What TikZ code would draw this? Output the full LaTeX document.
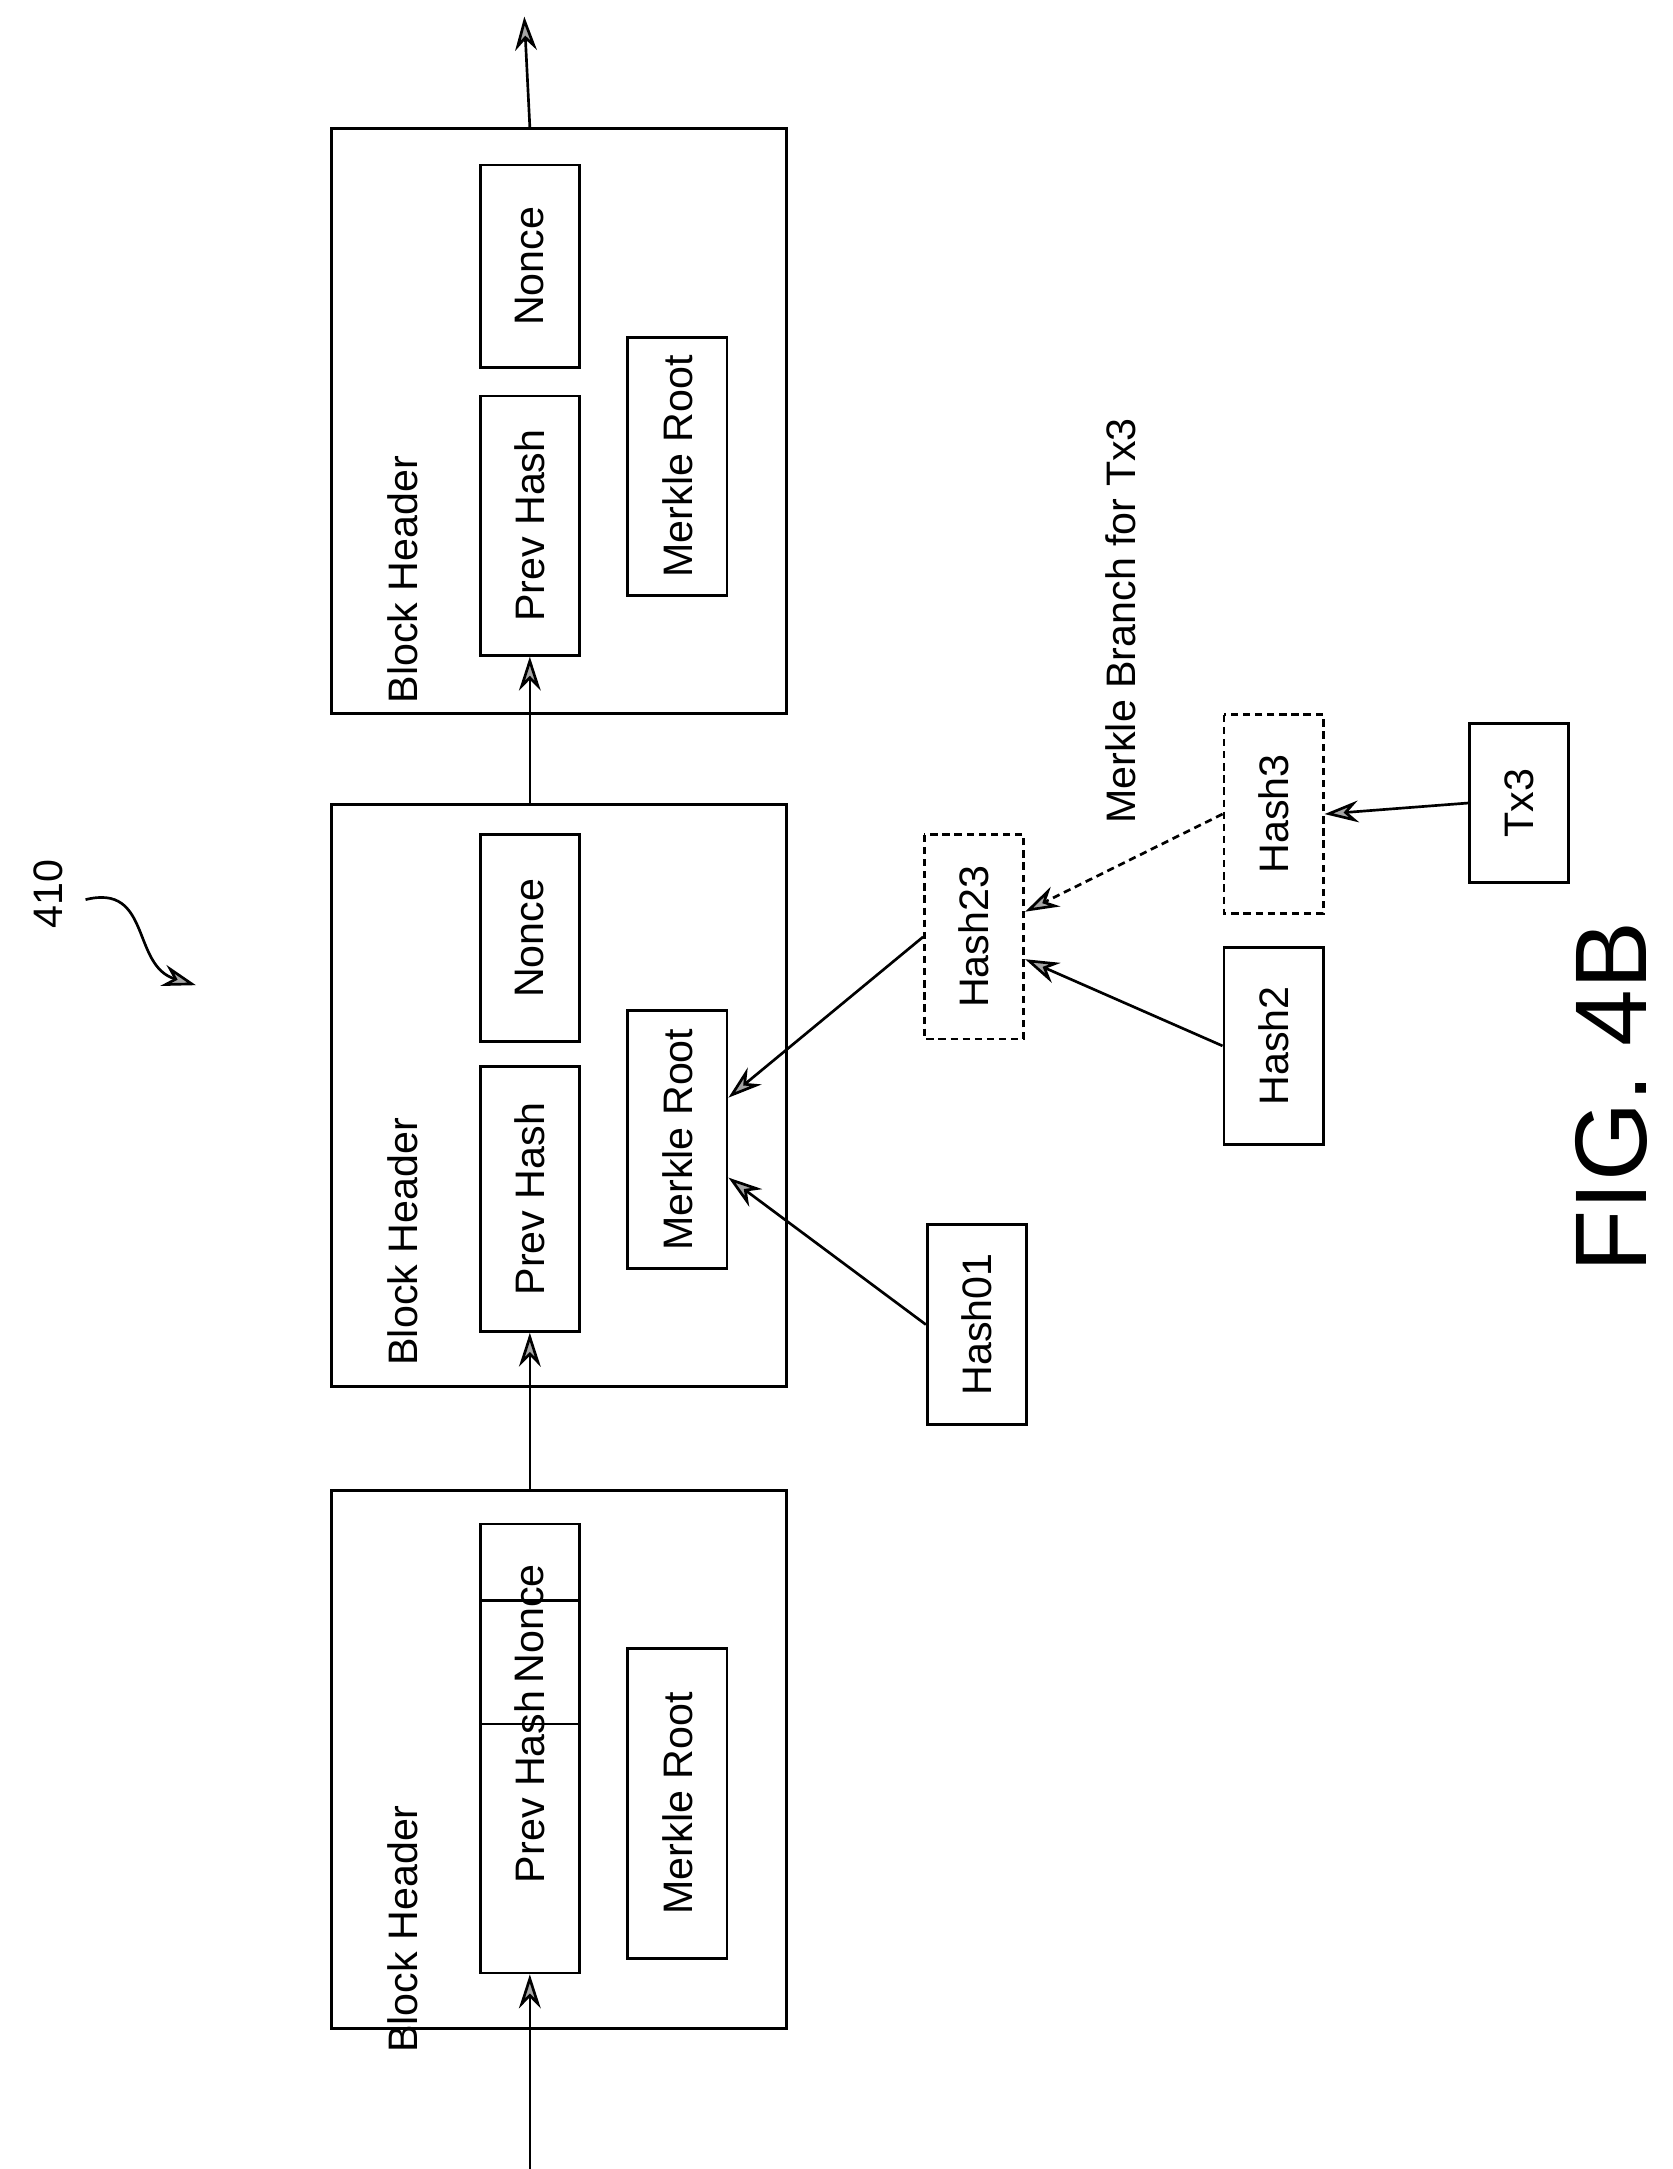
\documentclass[tikz,border=0pt]{standalone}
\usepackage{fontspec}
\setmainfont{Liberation Sans}
\usetikzlibrary{arrows.meta}
\tikzset{
  box/.style={draw, line width=1.1pt, rotate=90, inner sep=0pt, minimum height=1.44cm, font=\fontsize{17}{20}\selectfont},
  blk/.style={draw, line width=1.1pt, inner sep=0pt},
  dbox/.style={box, dash pattern=on 3pt off 2pt},
  arr/.style={line width=1.1pt, -{Stealth[length=14pt,width=9pt,fill=gray!70]}},
  lbl/.style={rotate=90, font=\fontsize{17}{20}\selectfont}
}
\begin{document}
\begin{tikzpicture}[x=0.02cm, y=-0.02cm]
    \useasboundingbox (0,0) rectangle (1212,1572);

    %blocks
    \node[blk, minimum width=6.6cm, minimum height=7.8cm] (b1) at (405,1275) {};
    \node[blk, minimum width=6.6cm, minimum height=8.44cm] (b2) at (405,794) {};
    \node[blk, minimum width=6.6cm, minimum height=8.48cm] (b3) at (405,305) {};

    \node[lbl] (bh1) at (292,1398) {Block Header};
    \node[lbl] (bh2) at (292,900) {Block Header};
    \node[lbl] (bh3) at (292,420) {Block Header};

    \node[box, minimum width=5.4cm] (ph1) at (384,1295) {Prev Hash};
    \node[box, minimum width=2.9cm] (n1) at (384,1177) {Nonce};
    \node[box, minimum width=4.5cm] (mr1) at (491,1307) {Merkle Root};

    \node[box, minimum width=3.84cm] (ph2) at (384,869) {Prev Hash};
    \node[box, minimum width=3.0cm] (n2) at (384,680) {Nonce};
    \node[box, minimum width=3.74cm] (mr2) at (491,826) {Merkle Root};

    \node[box, minimum width=3.76cm] (ph3) at (384,381) {Prev Hash};
    \node[box, minimum width=2.94cm] (n3) at (384,193) {Nonce};
    \node[box, minimum width=3.74cm] (mr3) at (491,338) {Merkle Root};

    %chain
    \coordinate (in) at (384,1572);
    \coordinate (out) at (380,12);
    \draw[arr] (in) -- (ph1.west);
    \draw[arr] (b1.north -| ph1) -- (ph2.west);
    \draw[arr] (b2.north -| ph2) -- (ph3.west);
    \draw[arr] (b3.north -| ph3) -- (out);

    %merkle branch
    \node[box, minimum width=2.9cm] (h01) at (708,960) {Hash01};
    \node[dbox, minimum width=2.96cm] (h23) at (706,679) {Hash23};
    \node[box, minimum width=2.86cm] (h2) at (923,758) {Hash2};
    \node[dbox, minimum width=2.88cm] (h3) at (923,590) {Hash3};
    \node[box, minimum width=2.3cm] (tx3) at (1101,582) {Tx3};

    \draw[arr] (h01.north) -- (mr2);
    \draw[arr] (h23.north) -- (mr2);
    \draw[arr] (h2.north) -- (h23);
    \draw[arr, dash pattern=on 3pt off 2pt] (h3.north) -- (h23);
    \draw[arr] (tx3.north) -- (h3.south);

    \node[lbl] (mb) at (812,450) {Merkle Branch for Tx3};

    %ref numeral
    \node[lbl] (ref) at (35,648) {410};
    \coordinate (refend) at (142,714);
    \draw[arr] (62,652) .. controls (110,640) and (95,700) .. (refend);

    \node[lbl, font=\fontsize{42}{46}\selectfont] (fig) at (1168,795) {FIG. 4B};
\end{tikzpicture}
\end{document}
